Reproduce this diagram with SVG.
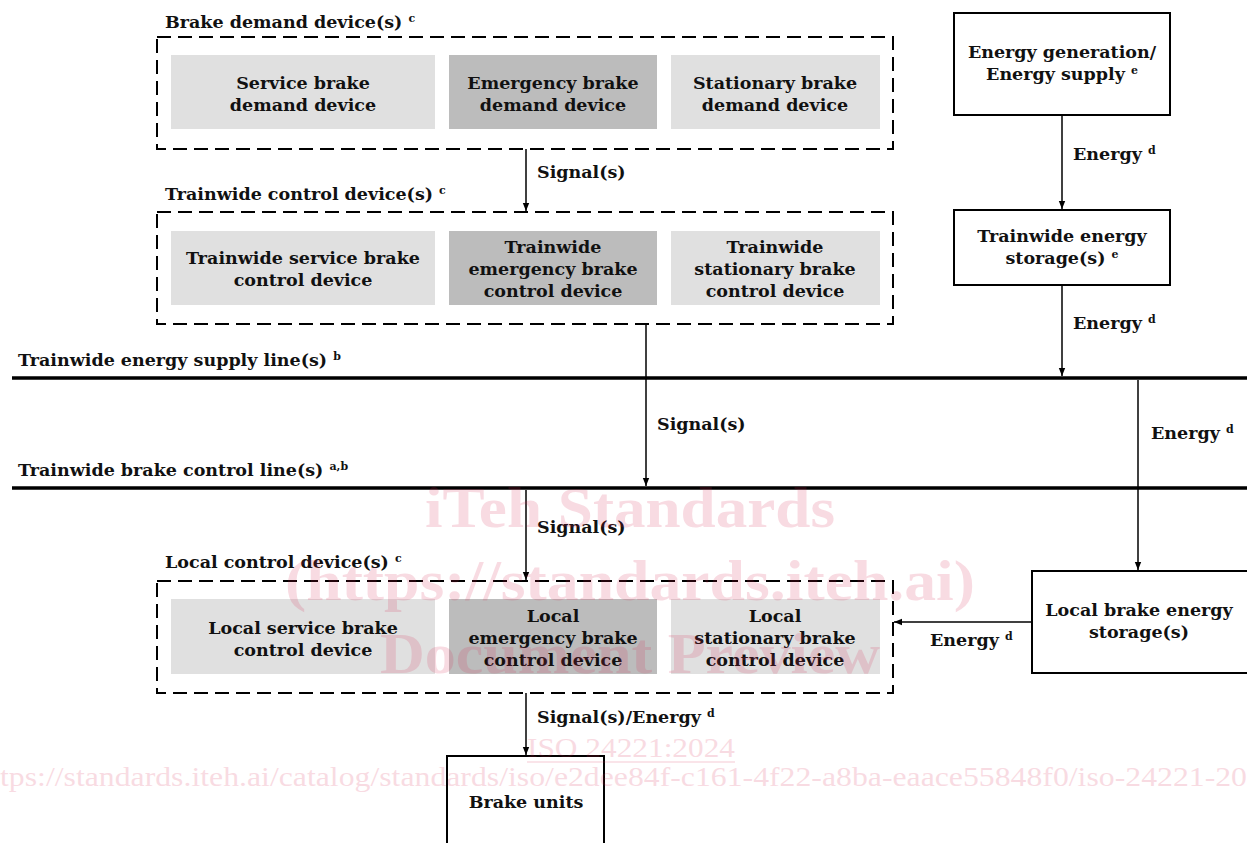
<svg xmlns="http://www.w3.org/2000/svg" width="1247" height="843" viewBox="0 0 1247 843">
<defs>
<marker id="ah" viewBox="0 0 10 10" refX="10" refY="5" markerWidth="8" markerHeight="8" markerUnits="userSpaceOnUse" orient="auto"><path d="M0,1 L10,5 L0,9 Z" fill="#000"/></marker>
<style>
text{font-family:"DejaVu Serif","Liberation Serif",serif;font-weight:bold;font-size:17.5px;fill:#111}
.c{text-anchor:middle}
.sup{font-size:11px}
.grp{fill:none;stroke:#000;stroke-width:2;stroke-dasharray:14 7}
.lt{fill:#e0e0e0}
.dk{fill:#bcbcbc}
.box{fill:#fff;stroke:#000;stroke-width:2}
.ln{stroke:#000;stroke-width:1.5;fill:none}
.bus{stroke:#000;stroke-width:3.5}
.wm{font-family:"Liberation Serif",serif;font-weight:bold;fill:#d9244f;font-size:58px}
.wm2{font-family:"Liberation Serif",serif;font-weight:normal;fill:#d9244f;font-size:27px}
</style>
</defs>
<rect width="1247" height="843" fill="#fff"/>
<g id="lines">
<line class="bus" x1="12" y1="378" x2="1247" y2="378"/>
<line class="bus" x1="12" y1="488" x2="1247" y2="488"/>
<text x="18" y="366">Trainwide energy supply line(s) <tspan class="sup" dy="-6">b</tspan></text>
<text x="18" y="476">Trainwide brake control line(s) <tspan class="sup" dy="-6">a,b</tspan></text>
</g>
<g id="brake-demand">
<text x="165" y="28">Brake demand device(s) <tspan class="sup" dy="-6">c</tspan></text>
<rect class="grp" x="157" y="37" width="736" height="112"/>
<rect class="lt" x="171" y="55" width="264" height="74"/>
<rect class="dk" x="449" y="55" width="208" height="74"/>
<rect class="lt" x="671" y="55" width="209" height="74"/>
<text class="c" x="303" y="89">Service brake</text><text class="c" x="303" y="111">demand device</text>
<text class="c" x="553" y="89">Emergency brake</text><text class="c" x="553" y="111">demand device</text>
<text class="c" x="775" y="89">Stationary brake</text><text class="c" x="775" y="111">demand device</text>
</g>
<g id="trainwide-control">
<text x="165" y="200">Trainwide control device(s) <tspan class="sup" dy="-6">c</tspan></text>
<rect class="grp" x="157" y="212" width="736" height="112"/>
<rect class="lt" x="171" y="231" width="264" height="74"/>
<rect class="dk" x="449" y="231" width="208" height="74"/>
<rect class="lt" x="671" y="231" width="209" height="74"/>
<text class="c" x="303" y="264">Trainwide service brake</text><text class="c" x="303" y="286">control device</text>
<text class="c" x="553" y="253">Trainwide</text><text class="c" x="553" y="275">emergency brake</text><text class="c" x="553" y="297">control device</text>
<text class="c" x="775" y="253">Trainwide</text><text class="c" x="775" y="275">stationary brake</text><text class="c" x="775" y="297">control device</text>
</g>
<g id="local-control">
<text x="165" y="568">Local control device(s) <tspan class="sup" dy="-6">c</tspan></text>
<rect class="grp" x="157" y="581" width="736" height="112"/>
<rect class="lt" x="171" y="599" width="264" height="75"/>
<rect class="dk" x="449" y="599" width="208" height="75"/>
<rect class="lt" x="671" y="599" width="209" height="75"/>
<text class="c" x="303" y="634">Local service brake</text><text class="c" x="303" y="656">control device</text>
<text class="c" x="553" y="622">Local</text><text class="c" x="553" y="644">emergency brake</text><text class="c" x="553" y="666">control device</text>
<text class="c" x="775" y="622">Local</text><text class="c" x="775" y="644">stationary brake</text><text class="c" x="775" y="666">control device</text>
</g>
<g id="brake-units">
<rect class="box" x="447" y="756" width="157" height="100"/>
<text class="c" x="526" y="808">Brake units</text>
</g>
<g id="energy-generation">
<rect class="box" x="954" y="13" width="216" height="102"/>
<text class="c" x="1062" y="58">Energy generation/</text>
<text class="c" x="1062" y="80">Energy supply <tspan class="sup" dy="-6">e</tspan></text>
</g>
<g id="trainwide-storage">
<rect class="box" x="954" y="210" width="216" height="75"/>
<text class="c" x="1062" y="242">Trainwide energy</text>
<text class="c" x="1062" y="264">storage(s) <tspan class="sup" dy="-6">e</tspan></text>
</g>
<g id="local-storage">
<rect class="box" x="1032" y="571" width="225" height="102"/>
<text class="c" x="1139" y="616">Local brake energy</text>
<text class="c" x="1139" y="638">storage(s)</text>
</g>
<g id="connectors">
<line class="ln" x1="526" y1="149" x2="526" y2="211" marker-end="url(#ah)"/>
<text x="537" y="178">Signal(s)</text>
<line class="ln" x1="646" y1="324" x2="646" y2="486" marker-end="url(#ah)"/>
<text x="657" y="430">Signal(s)</text>
<line class="ln" x1="526" y1="490" x2="526" y2="580" marker-end="url(#ah)"/>
<text x="537" y="533">Signal(s)</text>
<line class="ln" x1="526" y1="693" x2="526" y2="755" marker-end="url(#ah)"/>
<text x="537" y="723">Signal(s)/Energy <tspan class="sup" dy="-6">d</tspan></text>
<line class="ln" x1="1062" y1="115" x2="1062" y2="209" marker-end="url(#ah)"/>
<text x="1073" y="160">Energy <tspan class="sup" dy="-6">d</tspan></text>
<line class="ln" x1="1062" y1="285" x2="1062" y2="376" marker-end="url(#ah)"/>
<text x="1073" y="329">Energy <tspan class="sup" dy="-6">d</tspan></text>
<line class="ln" x1="1138" y1="380" x2="1138" y2="570" marker-end="url(#ah)"/>
<text x="1151" y="439">Energy <tspan class="sup" dy="-6">d</tspan></text>
<line class="ln" x1="1032" y1="622" x2="894" y2="622" marker-end="url(#ah)"/>
<text x="930" y="646">Energy <tspan class="sup" dy="-6">d</tspan></text>
</g>
<g id="watermark" opacity="0.16">
<text class="wm" x="425" y="527" textLength="410" lengthAdjust="spacingAndGlyphs">iTeh Standards</text>
<text class="wm" x="285" y="600" textLength="690" lengthAdjust="spacingAndGlyphs">(https://standards.iteh.ai)</text>
<text class="wm" x="380" y="673" textLength="500" lengthAdjust="spacingAndGlyphs">Document Preview</text>
<text class="wm2" x="527" y="757" textLength="208" lengthAdjust="spacingAndGlyphs">ISO 24221:2024</text>
<line x1="527" y1="762" x2="735" y2="762" stroke="#d9244f" stroke-width="1.5"/>
<text class="wm2" x="0" y="786" textLength="1247" lengthAdjust="spacingAndGlyphs">tps://standards.iteh.ai/catalog/standards/iso/e2dee84f-c161-4f22-a8ba-eaace55848f0/iso-24221-20</text>
</g>
</svg>
